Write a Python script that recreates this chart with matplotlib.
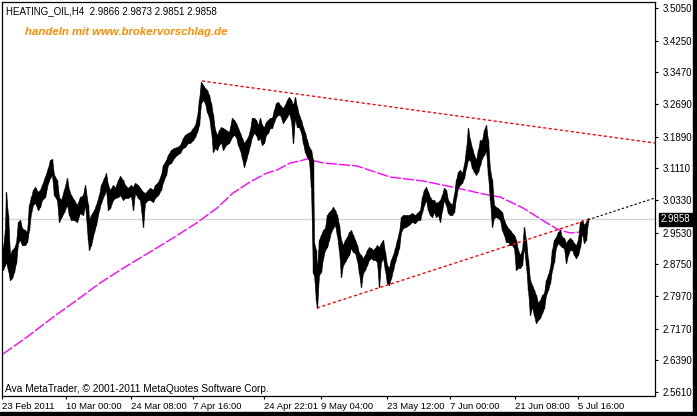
import matplotlib
matplotlib.use('Agg')
import matplotlib.pyplot as plt
from matplotlib.patches import Rectangle

plt.rcParams['font.family'] = ['Liberation Sans', 'DejaVu Sans']

# H4 bars (bar index ~ one pixel per bar)
bar_x = [3, 5, 6, 8, 10, 12, 14, 16, 18, 20, 22, 25, 27, 29, 31, 33, 35, 38, 40, 42,
         45, 48, 50, 52, 54, 57, 59, 61, 64, 67, 69, 71, 74, 77, 80, 83, 85, 88, 89, 91,
         94, 96, 99, 101, 104, 106, 108, 110, 113, 115, 118, 120, 123, 125, 128, 131, 133, 135, 138, 140,
         143, 145, 148, 150, 153, 155, 158, 161, 163, 166, 168, 171, 174, 177, 180, 183, 185, 188, 190, 193,
         195, 197, 199, 201, 203, 205, 207, 209, 211, 213, 215, 217, 219, 221, 223, 226, 229, 232, 234, 236,
         238, 240, 242, 244, 246, 248, 250, 252, 254, 256, 258, 260, 262, 264, 266, 268, 270, 272, 274, 276,
         278, 280, 283, 285, 287, 289, 291, 293, 295, 297, 299, 301, 303, 305, 307, 309, 311, 313, 314, 316,
         317, 319, 321, 323, 325, 327, 329, 331, 333, 335, 337, 339, 341, 343, 345, 347, 349, 351, 353, 355,
         357, 359, 361, 363, 365, 367, 369, 371, 373, 375, 377, 379, 381, 383, 385, 387, 389, 391, 393, 395,
         397, 399, 401, 403, 406, 409, 412, 415, 418, 420, 422, 424, 426, 428, 430, 432, 434, 436, 438, 440,
         442, 444, 446, 448, 450, 452, 454, 456, 458, 460, 462, 464, 466, 468, 470, 472, 474, 476, 478, 480,
         482, 484, 486, 488, 490, 492, 494, 496, 498, 500, 502, 504, 506, 508, 510, 512, 514, 516, 518, 520,
         522, 524, 526, 528, 530, 532, 534, 536, 538, 540, 542, 544, 546, 548, 550, 552, 554, 556, 558, 560,
         562, 564, 566, 568, 570, 572, 574, 576, 578, 580, 582, 584, 586, 588]
bar_hi = [2.917, 2.959, 3.053, 2.996, 2.898, 2.910, 2.915, 2.927, 2.979, 2.984, 2.964, 2.959, 2.954, 3.021, 3.040, 3.058, 3.065, 3.053, 3.058, 3.070,
          3.090, 3.112, 3.131, 3.134, 3.095, 3.082, 3.040, 3.033, 3.058, 3.087, 3.058, 3.045, 3.033, 3.021, 3.040, 3.045, 3.070, 3.021, 2.984, 2.996,
          3.008, 3.021, 3.045, 3.070, 3.087, 3.099, 3.070, 3.058, 3.070, 3.063, 3.082, 3.092, 3.082, 3.070, 3.063, 3.070, 3.065, 3.075, 3.070, 3.063,
          3.053, 3.050, 3.058, 3.063, 3.058, 3.070, 3.077, 3.095, 3.119, 3.131, 3.144, 3.156, 3.161, 3.163, 3.168, 3.185, 3.193, 3.198, 3.200, 3.210,
          3.217, 3.237, 3.279, 3.323, 3.316, 3.308, 3.303, 3.291, 3.271, 3.242, 3.205, 3.193, 3.205, 3.212, 3.210, 3.205, 3.200, 3.235, 3.230, 3.222,
          3.210, 3.198, 3.185, 3.173, 3.180, 3.188, 3.205, 3.235, 3.235, 3.230, 3.217, 3.235, 3.217, 3.212, 3.225, 3.230, 3.235, 3.235, 3.254, 3.271,
          3.274, 3.267, 3.259, 3.267, 3.279, 3.286, 3.279, 3.267, 3.286, 3.262, 3.242, 3.230, 3.212, 3.198, 3.180, 3.163, 3.156, 3.131, 2.927, 2.910,
          2.861, 2.935, 2.947, 2.959, 2.964, 2.996, 3.003, 3.008, 3.016, 3.008, 2.996, 2.972, 2.935, 2.922, 2.935, 2.942, 2.954, 2.959, 2.947, 2.935,
          2.922, 2.903, 2.898, 2.890, 2.898, 2.910, 2.917, 2.915, 2.910, 2.915, 2.922, 2.917, 2.927, 2.935, 2.905, 2.873, 2.866, 2.886, 2.898, 2.915,
          2.935, 2.954, 2.991, 2.996, 2.996, 2.996, 3.001, 2.996, 3.003, 3.008, 3.040, 3.058, 3.065, 3.053, 3.040, 3.033, 3.033, 3.026, 3.028, 3.033,
          3.045, 3.063, 3.058, 3.033, 3.026, 3.021, 3.045, 3.082, 3.102, 3.107, 3.099, 3.119, 3.156, 3.210, 3.180, 3.161, 3.144, 3.131, 3.156, 3.180,
          3.180, 3.205, 3.217, 3.180, 3.107, 3.082, 3.021, 3.016, 3.013, 3.008, 3.003, 2.984, 2.972, 2.964, 2.959, 2.952, 2.947, 2.935, 2.910, 2.898,
          2.910, 2.967, 2.935, 2.886, 2.836, 2.824, 2.812, 2.799, 2.780, 2.787, 2.799, 2.804, 2.836, 2.849, 2.866, 2.910, 2.935, 2.942, 2.954, 2.959,
          2.942, 2.940, 2.927, 2.935, 2.940, 2.935, 2.927, 2.922, 2.935, 2.979, 2.984, 2.972, 2.979, 2.989]
bar_lo = [2.861, 2.873, 2.881, 2.861, 2.836, 2.841, 2.856, 2.878, 2.927, 2.935, 2.922, 2.922, 2.930, 2.959, 3.001, 3.021, 3.026, 3.008, 3.016, 3.033,
          3.040, 3.075, 3.087, 3.095, 3.045, 3.033, 2.979, 2.989, 3.003, 3.021, 2.996, 2.984, 2.984, 2.979, 3.001, 2.996, 3.021, 2.935, 2.910, 2.922,
          2.954, 2.972, 3.008, 3.026, 3.045, 3.058, 3.008, 3.013, 3.033, 3.038, 3.040, 3.045, 3.033, 3.038, 3.038, 3.043, 3.008, 3.050, 3.038, 3.033,
          2.967, 3.026, 3.033, 3.033, 3.028, 3.038, 3.045, 3.058, 3.077, 3.095, 3.119, 3.124, 3.136, 3.144, 3.149, 3.161, 3.163, 3.173, 3.173, 3.180,
          3.188, 3.200, 3.217, 3.271, 3.279, 3.271, 3.249, 3.237, 3.205, 3.151, 3.161, 3.156, 3.168, 3.175, 3.156, 3.168, 3.173, 3.188, 3.193, 3.188,
          3.168, 3.156, 3.136, 3.114, 3.131, 3.149, 3.168, 3.188, 3.198, 3.193, 3.180, 3.185, 3.168, 3.173, 3.193, 3.198, 3.210, 3.210, 3.225, 3.237,
          3.242, 3.242, 3.222, 3.230, 3.237, 3.247, 3.230, 3.173, 3.235, 3.212, 3.212, 3.200, 3.173, 3.151, 3.139, 3.131, 3.065, 2.854, 2.849, 2.787,
          2.767, 2.849, 2.856, 2.890, 2.910, 2.917, 2.935, 2.954, 2.964, 2.972, 2.947, 2.910, 2.844, 2.873, 2.881, 2.890, 2.898, 2.915, 2.905, 2.903,
          2.886, 2.854, 2.819, 2.854, 2.861, 2.873, 2.886, 2.890, 2.886, 2.886, 2.881, 2.819, 2.881, 2.890, 2.861, 2.829, 2.824, 2.841, 2.861, 2.881,
          2.898, 2.915, 2.954, 2.964, 2.967, 2.972, 2.979, 2.976, 2.984, 2.984, 3.003, 3.021, 3.033, 3.008, 2.996, 2.991, 3.003, 2.991, 2.996, 2.979,
          3.008, 3.033, 3.021, 3.001, 2.996, 2.996, 3.003, 3.038, 3.063, 3.070, 3.075, 3.087, 3.112, 3.131, 3.131, 3.112, 3.102, 3.095, 3.102, 3.119,
          3.136, 3.144, 3.156, 3.095, 3.033, 2.967, 2.989, 2.991, 2.989, 2.984, 2.959, 2.947, 2.930, 2.930, 2.922, 2.922, 2.915, 2.861, 2.866, 2.866,
          2.873, 2.917, 2.873, 2.812, 2.750, 2.770, 2.750, 2.730, 2.738, 2.743, 2.755, 2.767, 2.799, 2.812, 2.829, 2.861, 2.881, 2.917, 2.927, 2.922,
          2.917, 2.915, 2.878, 2.898, 2.910, 2.910, 2.898, 2.890, 2.898, 2.917, 2.952, 2.927, 2.935, 2.979]

# moving average (magenta)
ma_x = [3, 27, 52, 77, 100, 125, 150, 173, 198, 217, 233, 250, 267, 277, 290, 300, 307,
        323, 357, 390, 423, 457, 483, 500, 523, 547, 557, 570, 580, 587]
ma_y = [2.6545, 2.6962, 2.7429, 2.7872, 2.8289, 2.8683, 2.9051, 2.9395, 2.9788, 3.0133, 3.0502,
        3.0773, 3.0994, 3.1068, 3.1240, 3.1289, 3.1338, 3.1240, 3.1166, 3.0895, 3.0797, 3.0625,
        3.0478, 3.0404, 3.0133, 2.9764, 2.9616, 2.9518, 2.9543, 2.9543]

# trend lines
upper_x = [202, 655]
upper_y = [3.3256, 3.1730]
lower_x = [317, 588]
lower_y = [2.7676, 2.9844]
ext_x = [588, 655]
ext_y = [2.9844, 3.0380]

last_close = 2.9858
header = 'HEATING_OIL,H4  2.9866 2.9873 2.9851 2.9858'

y_ticks = [3.5050, 3.4250, 3.3470, 3.2690, 3.1890, 3.1110, 3.0330, 2.9530,
           2.8750, 2.7970, 2.7170, 2.6390, 2.5610]
x_ticks = [2, 66, 131, 193, 264, 321, 387, 450, 515, 578]
x_labels = ['23 Feb 2011', '10 Mar 00:00', '24 Mar 08:00', '7 Apr 16:00', '24 Apr 22:01',
            '9 May 04:00', '23 May 12:00', '7 Jun 00:00', '21 Jun 08:00', '5 Jul 16:00']

fig = plt.figure(figsize=(6.97, 4.16), dpi=100)
fig.patch.set_facecolor('white')
ax = fig.add_axes([2 / 697, 20 / 416, 653 / 697, 394 / 416])
ax.set_xlim(2, 655)
ax.set_ylim(2.5512, 3.5197)

ax.axhline(last_close, color='#d4d4dc', lw=1, zorder=1)

ax.fill_between(bar_x, bar_lo, bar_hi, color='black', lw=0.4, zorder=3)
ax.vlines(bar_x, bar_lo, bar_hi, color='black', lw=1.0, zorder=3)

ax.plot(ma_x, ma_y, color='#ff00ff', lw=1, dashes=(8, 1.5), zorder=2)

ax.plot(upper_x, upper_y, color='red', lw=1, dashes=(2.2, 1.8), zorder=4)
ax.plot(lower_x, lower_y, color='red', lw=1, dashes=(2.2, 1.8), zorder=4)
ax.plot(ext_x, ext_y, color='black', lw=0.8, dashes=(2.2, 1.8), zorder=4)

ax.yaxis.tick_right()
ax.set_yticks(y_ticks)
ax.set_yticklabels(['%.4f' % v for v in y_ticks])
ax.set_xticks(x_ticks)
ax.set_xticklabels(x_labels, ha='left')
ax.tick_params(axis='both', direction='out', length=2.5, width=0.8, labelsize=7,
               colors='black', pad=2)
ax.tick_params(axis='x', labelsize=6.8)
ax.tick_params(axis='y', pad=3)
for s in ax.spines.values():
    s.set_color('black')
    s.set_linewidth(0.9)

ax.text(0.006, 0.978, header, transform=ax.transAxes, fontsize=7, va='center', ha='left')
ax.text(0.035, 0.925, 'handeln mit www.brokervorschlag.de', transform=ax.transAxes,
        fontsize=8.2, fontweight='bold', fontstyle='italic', color='#ff8c00',
        va='center', ha='left')
ax.text(0.005, 0.018, 'Ava MetaTrader, \u00a9 2001-2011 MetaQuotes Software Corp.',
        transform=ax.transAxes, fontsize=7.3, va='center', ha='left')

# current price box on the axis
ax.annotate('%.4f' % last_close, xy=(1, last_close), xycoords=('axes fraction', 'data'),
            xytext=(4, 0), textcoords='offset points', fontsize=7, color='white',
            va='center', ha='left', annotation_clip=False,
            bbox=dict(boxstyle='square,pad=0.15', fc='black', ec='black'))

# window frame shadow
fig.patches.append(Rectangle((693 / 697, 0), 4 / 697, 1, transform=fig.transFigure,
                             color='black', zorder=10))
fig.patches.append(Rectangle((0, 0), 1, 4 / 416, transform=fig.transFigure,
                             color='black', zorder=10))

fig.savefig('out.png', dpi=100)
